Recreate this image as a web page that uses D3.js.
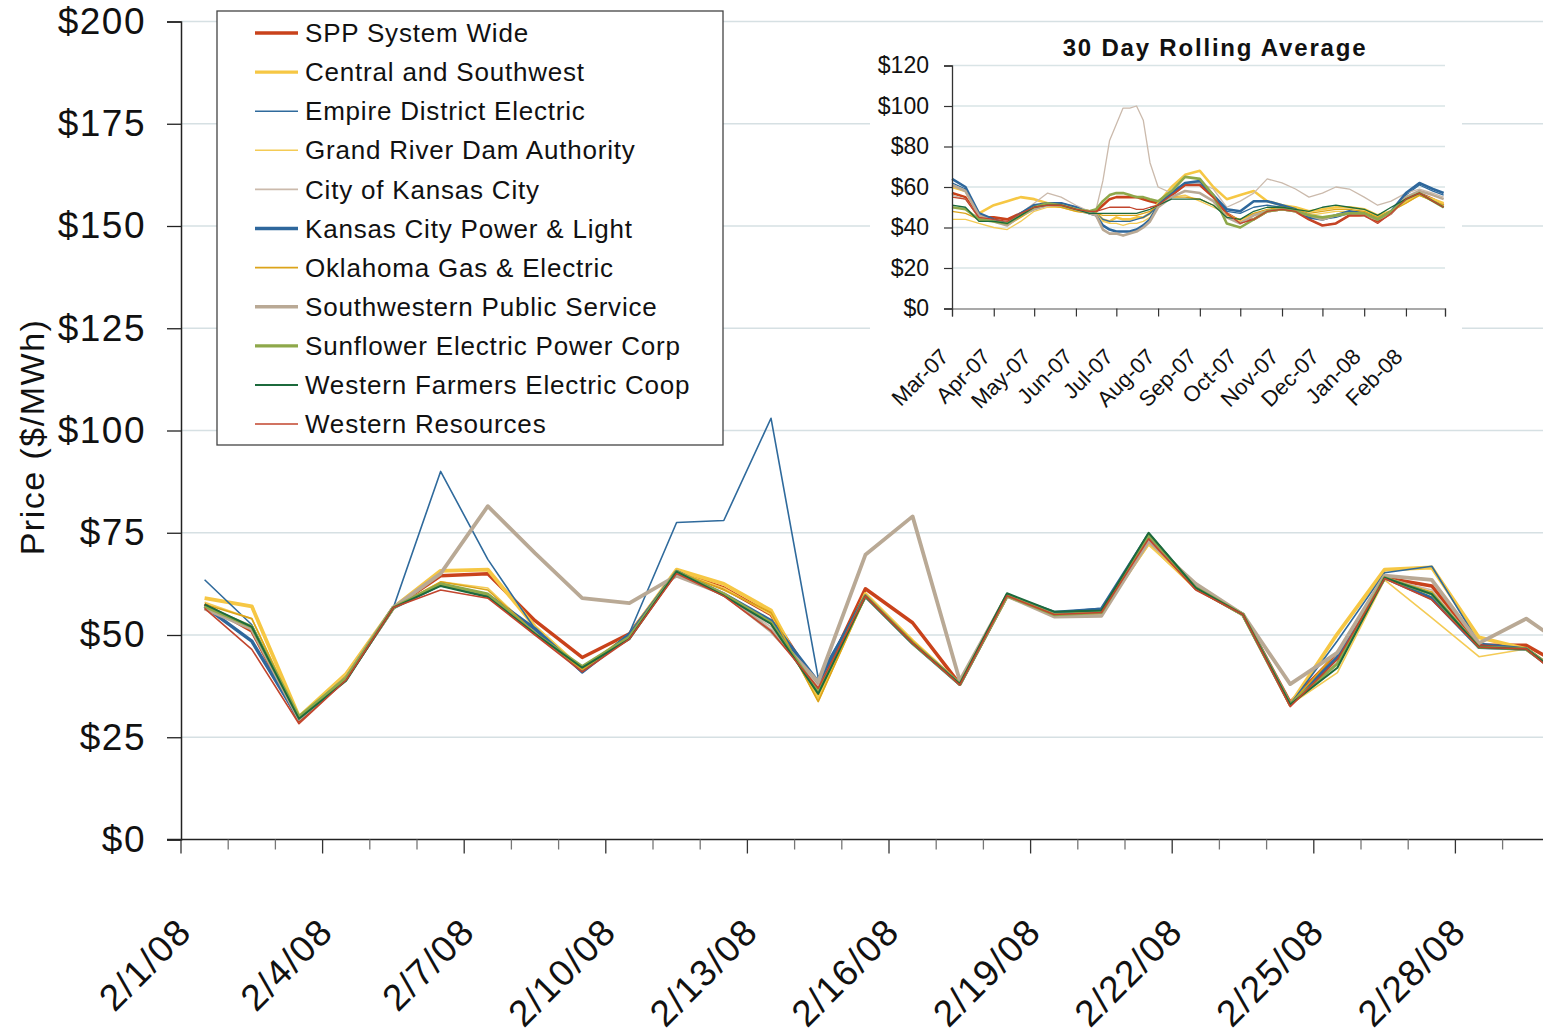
<!DOCTYPE html>
<html>
<head>
<meta charset="utf-8">
<script src="https://cdn.jsdelivr.net/npm/d3@7"></script>
<style>
    body { margin: 0; background: #fff; }
    svg { display: block; font-family: "Liberation Sans", Arial, sans-serif; }
</style>
</head>
<body>
<div id="chart"></div>
<script>
'use strict';

// Daily categories of the main chart
const days = ['2/1/08', '2/2/08', '2/3/08', '2/4/08', '2/5/08', '2/6/08', '2/7/08', '2/8/08',
    '2/9/08', '2/10/08', '2/11/08', '2/12/08', '2/13/08', '2/14/08', '2/15/08', '2/16/08',
    '2/17/08', '2/18/08', '2/19/08', '2/20/08', '2/21/08', '2/22/08', '2/23/08', '2/24/08',
    '2/25/08', '2/26/08', '2/27/08', '2/28/08', '2/29/08', '3/1/08'];
const dayLabels = ['2/1/08', '2/4/08', '2/7/08', '2/10/08', '2/13/08', '2/16/08', '2/19/08',
    '2/22/08', '2/25/08', '2/28/08'];
const priceTicks = [0, 25, 50, 75, 100, 125, 150, 175, 200];

const seriesNames = ['SPP System Wide', 'Central and Southwest', 'Empire District Electric',
    'Grand River Dam Authority', 'City of Kansas City', 'Kansas City Power & Light',
    'Oklahoma Gas & Electric', 'Southwestern Public Service', 'Sunflower Electric Power Corp',
    'Western Farmers Electric Coop', 'Western Resources'];

// Daily prices, $/MWh
const sppSystemWide = [57.5, 51, 29, 39.5, 56.7, 64.5, 65, 53.5, 44.5, 50.3, 65.5, 61.5, 55, 37, 61.3, 53, 38, 59.6, 55, 55.5, 73.5, 61.5, 55, 33.5, 45.4, 64, 62, 47.5, 47.5, 41];
const centralSouthwest = [59, 57, 30, 40.5, 56.7, 65.7, 66, 52, 41.5, 50, 66, 62.5, 56, 34.5, 60, 48.5, 38, 59.6, 55, 55.5, 72.5, 61.5, 55, 33, 50.3, 66, 66.5, 49.4, 46.6, 38.5];
const empireDistrict = [63.5, 52.5, 29.5, 39.5, 56.7, 90, 68.5, 51.5, 40.8, 50.5, 77.5, 78, 103, 39.5, 59.5, 48, 38, 59.6, 55.5, 56.5, 74, 61.5, 55, 33, 48.6, 65.2, 66.8, 48, 46.8, 38.5];
const grandRiverDam = [58, 54, 29.5, 40.5, 56.7, 63, 61.5, 50.5, 41.5, 49.5, 65.5, 61.5, 55, 34, 59.5, 48, 38, 59.6, 55, 55.5, 72, 61.5, 55, 33, 40.8, 63.5, 54.2, 44.7, 46.6, 38];
const cityOfKansasCity = [57, 52, 29.5, 39.5, 56.7, 62.5, 60, 50.5, 41.5, 49.5, 65.5, 60, 52, 37.5, 59.5, 48, 38, 59.6, 55, 55.5, 73.5, 61.5, 55, 33, 45, 64, 61, 47, 46.6, 38.5];
const kansasCityPower = [57, 48.5, 29.5, 39.5, 56.7, 62.3, 59.8, 51.5, 41, 50, 65.5, 60, 53.5, 38.5, 59.5, 48, 38, 59.6, 55.5, 56.3, 74.5, 61.5, 55, 33, 44.5, 64, 59, 47, 46.6, 38];
const oklahomaGas = [57.5, 54, 29.5, 40, 56.7, 63, 61, 50.5, 41.5, 49.5, 65.5, 61, 55.5, 33.7, 59.5, 48.5, 38, 59.6, 55, 55.5, 73.5, 61.5, 55, 33, 46, 64, 60.5, 47, 46.6, 38.5];
const southwesternPublic = [56.5, 51.5, 29.5, 39.5, 56.7, 65, 81.5, 70, 59, 57.8, 64.5, 60, 51, 38.5, 69.6, 79, 38.8, 59.6, 54.5, 54.7, 73, 62.5, 55, 38, 45.7, 64.5, 63.5, 48, 54, 46];
const sunflowerElectric = [57, 52, 30, 39.5, 56.7, 62.5, 60, 50.3, 42.3, 49.5, 65.5, 60, 53, 36, 59.5, 48, 38, 59.6, 55, 55.5, 74.5, 61.5, 55, 33, 43, 64, 60, 47, 46.6, 38];
const westernFarmers = [57.5, 52, 29.5, 38.8, 56.7, 62, 59.3, 50.3, 42, 49, 65.5, 59.6, 52.7, 35.6, 59.5, 48, 38, 60.2, 55.7, 56, 75, 61.5, 55, 33, 42, 64, 60, 47, 46.6, 38];
const westernResources = [56.5, 46.5, 28.3, 39, 56.7, 61, 59, 50, 41, 49, 65, 59.5, 51, 37, 59.5, 48, 37.8, 59.6, 55, 55.5, 73.5, 61, 55, 32.5, 44, 63.8, 58.6, 47, 46.6, 37];

// Inset: 30 day rolling average, sampled dates
const avgDates = ['3/1/07', '3/11/07', '3/21/07', '4/1/07', '4/11/07', '4/21/07', '5/1/07', '5/11/07',
    '5/21/07', '6/1/07', '6/11/07', '6/16/07', '6/21/07', '6/26/07', '7/1/07', '7/6/07', '7/11/07',
    '7/16/07', '7/21/07', '7/26/07', '8/1/07', '8/11/07', '8/21/07', '9/1/07', '9/11/07', '9/21/07',
    '10/1/07', '10/11/07', '10/21/07', '11/1/07', '11/11/07', '11/21/07', '12/1/07', '12/11/07',
    '12/21/07', '1/1/08', '1/11/08', '1/21/08', '2/1/08', '2/11/08', '2/21/08', '2/29/08'];
const avgMonths = ['Mar-07', 'Apr-07', 'May-07', 'Jun-07', 'Jul-07', 'Aug-07', 'Sep-07', 'Oct-07',
    'Nov-07', 'Dec-07', 'Jan-08', 'Feb-08'];
const avgTicks = [0, 20, 40, 60, 80, 100, 120];

const avgSpp = [57, 55, 45, 45, 44, 47, 50, 51, 51, 49, 48, 48, 51, 54, 55, 55, 55, 55, 54, 53, 52, 56, 61, 61, 55, 47, 43, 44, 48, 49, 48, 44, 41, 42, 46, 46, 43, 47, 55, 57, 54, 51];
const avgCentral = [60, 58, 47, 51, 53, 55, 54, 52, 51, 49, 48, 47, 44, 43, 45, 44, 44, 45, 45, 47, 52, 60, 66, 68, 60, 54, 56, 58, 53, 51, 50, 48, 49, 50, 50, 49, 46, 48, 53, 56, 54, 52];
const avgEmpire = [62, 59, 46, 43, 42, 46, 50, 52, 52, 50, 48, 47, 44, 43, 43, 43, 43, 44, 45, 47, 51, 57, 62, 62, 56, 48, 47, 50, 51, 50, 49, 46, 44, 45, 47, 47, 45, 48, 56, 61, 58, 56];
const avgGrandRiver = [44, 44, 42, 40, 39, 43, 48, 50, 50, 48, 47, 47, 43, 42, 42, 41, 42, 42, 43, 45, 50, 55, 56, 53, 50, 47, 43, 47, 48, 49, 49, 46, 47, 48, 48, 48, 45, 48, 52, 56, 53, 51];
const avgCityKc = [56, 54, 45, 44, 42, 47, 52, 57, 55, 51, 48, 49, 63, 83, 91, 99, 99, 100, 93, 72, 60, 57, 62, 62, 59, 50, 53, 57, 64, 62, 59, 55, 57, 60, 59, 55, 51, 53, 57, 59, 57, 55];
const avgKcpl = [64, 60, 47, 44, 42, 47, 51, 52, 52, 50, 47, 46, 41, 39, 38, 38, 38, 39, 41, 44, 51, 57, 62, 63, 56, 49, 48, 53, 53, 51, 49, 45, 44, 46, 48, 47, 44, 48, 57, 62, 59, 57];
const avgOklahoma = [48, 47, 44, 43, 41, 45, 49, 51, 50, 48, 47, 47, 46, 46, 46, 46, 46, 46, 47, 48, 51, 55, 55, 54, 51, 46, 44, 47, 49, 50, 49, 47, 48, 49, 49, 48, 45, 48, 52, 56, 53, 51];
const avgSouthwestern = [61, 58, 46, 43, 41, 46, 49, 51, 51, 49, 47, 46, 39, 37, 37, 36, 37, 38, 40, 43, 50, 55, 58, 57, 53, 45, 42, 46, 48, 49, 48, 46, 44, 46, 47, 46, 44, 47, 55, 58, 56, 54];
const avgSunflower = [50, 49, 44, 43, 42, 46, 50, 52, 51, 49, 48, 49, 53, 56, 57, 57, 56, 55, 55, 54, 53, 58, 65, 64, 56, 42, 40, 44, 48, 49, 48, 46, 45, 46, 47, 47, 44, 48, 54, 57, 53, 50];
const avgWesternFarmers = [51, 50, 43, 43, 42, 46, 50, 51, 51, 49, 47, 47, 47, 47, 47, 47, 47, 47, 48, 49, 51, 54, 54, 54, 51, 45, 44, 48, 50, 50, 49, 48, 50, 51, 50, 49, 46, 50, 54, 57, 53, 50];
const avgWesternResources = [55, 54, 45, 44, 43, 47, 50, 51, 51, 49, 48, 48, 49, 50, 50, 50, 50, 49, 49, 50, 51, 56, 61, 61, 55, 47, 42, 44, 48, 49, 48, 44, 41, 42, 46, 46, 42, 47, 54, 57, 53, 50];

const dailySeries = [sppSystemWide, centralSouthwest, empireDistrict, grandRiverDam, cityOfKansasCity,
    kansasCityPower, oklahomaGas, southwesternPublic, sunflowerElectric, westernFarmers, westernResources];
const avgSeries = [avgSpp, avgCentral, avgEmpire, avgGrandRiver, avgCityKc, avgKcpl, avgOklahoma,
    avgSouthwestern, avgSunflower, avgWesternFarmers, avgWesternResources];

// Line styles per series (same order as seriesNames)
const lineStyles = [
    { color: '#c9421b', width: 3.5 },
    { color: '#f6c744', width: 3.8 },
    { color: '#2f6a9c', width: 1.6 },
    { color: '#f4cb55', width: 1.6 },
    { color: '#cbbaac', width: 1.6 },
    { color: '#2e679c', width: 3.5 },
    { color: '#dca41a', width: 1.6 },
    { color: '#b9a995', width: 3.8 },
    { color: '#8ea84a', width: 3.2 },
    { color: '#1c6a3c', width: 2 },
    { color: '#c2452d', width: 1.6 }
];

const settings = { width: 1543, height: 1034 };
const plot = { left: 181, top: 21.5, bottom: 839.5, step: 47.2 };
const inset = { left: 952, right: 1445, top: 65.5, bottom: 308.5 };
const gridColor = '#d6e0e3';

const svg = d3.select('#chart')
    .append('svg')
    .attr('width', settings.width)
    .attr('height', settings.height);

// Main scales
const x = d3.scaleBand()
    .domain(days)
    .range([plot.left, plot.left + days.length * plot.step])
    .paddingInner(0)
    .paddingOuter(0);

const y = d3.scaleLinear()
    .domain([0, 200])
    .range([plot.bottom, plot.top]);

const cx = d => x(d) + x.bandwidth() / 2;

// Gridlines
svg.append('g')
    .selectAll('line')
    .data(priceTicks.filter(t => t > 0))
    .join('line')
    .attr('x1', plot.left)
    .attr('x2', settings.width)
    .attr('y1', d => y(d))
    .attr('y2', d => y(d))
    .attr('stroke', gridColor)
    .attr('stroke-width', 1.5);

// Daily price lines
const line = d3.line()
    .x((d, i) => cx(days[i]))
    .y(d => y(d));

svg.append('g')
    .selectAll('path')
    .data(dailySeries)
    .join('path')
    .attr('d', line)
    .attr('fill', 'none')
    .attr('stroke', (_, i) => lineStyles[i].color)
    .attr('stroke-width', (_, i) => lineStyles[i].width)
    .attr('stroke-linejoin', 'round');

// Y axis
const yAxis = svg.append('g')
    .attr('transform', `translate(${plot.left},0)`)
    .call(d3.axisLeft(y).tickValues(priceTicks).tickFormat(d => '$' + d).tickSize(14).tickPadding(21));
yAxis.select('.domain').attr('stroke', '#222').attr('stroke-width', 1.5);
yAxis.selectAll('.tick line').attr('stroke', '#222').attr('stroke-width', 1.3);
yAxis.selectAll('.tick text')
    .attr('font-size', '37px')
    .attr('letter-spacing', '1.5px')
    .attr('fill', '#111');

// X axis line and ticks between categories
svg.append('line')
    .attr('x1', plot.left - 14)
    .attr('x2', settings.width)
    .attr('y1', plot.bottom)
    .attr('y2', plot.bottom)
    .attr('stroke', '#222')
    .attr('stroke-width', 1.5);

svg.append('g')
    .selectAll('line')
    .data(d3.range(days.length + 1))
    .join('line')
    .attr('x1', i => plot.left + i * x.step())
    .attr('x2', i => plot.left + i * x.step())
    .attr('y1', plot.bottom)
    .attr('y2', i => plot.bottom + (i % 3 === 0 ? 14 : 10))
    .attr('stroke', i => i % 3 === 0 ? '#333' : '#777')
    .attr('stroke-width', 1.3);

svg.append('g')
    .selectAll('text')
    .data(dayLabels)
    .join('text')
    .attr('transform', d => `translate(${cx(d) - 11},934) rotate(-45)`)
    .attr('text-anchor', 'end')
    .attr('font-size', '37px')
    .attr('letter-spacing', '1.5px')
    .attr('fill', '#111')
    .text(d => d);

// Y axis title
svg.append('text')
    .attr('transform', 'translate(44,437) rotate(-90)')
    .attr('text-anchor', 'middle')
    .attr('font-size', '34px')
    .attr('letter-spacing', '1.5px')
    .attr('fill', '#111')
    .text('Price ($/MWh)');

// Legend
const legend = svg.append('g').attr('id', 'legend');
legend.append('rect')
    .attr('x', 217)
    .attr('y', 11)
    .attr('width', 506)
    .attr('height', 434)
    .attr('fill', '#fff')
    .attr('stroke', '#444')
    .attr('stroke-width', 1.3);

const entries = legend.selectAll('g.entry')
    .data(seriesNames)
    .join('g')
    .attr('class', 'entry')
    .attr('transform', (_, i) => `translate(0,${33 + i * 39.1})`);

entries.append('line')
    .attr('x1', 255)
    .attr('x2', 298)
    .attr('stroke', (_, i) => lineStyles[i].color)
    .attr('stroke-width', (_, i) => Math.min(lineStyles[i].width, 3.4));

entries.append('text')
    .attr('x', 305)
    .attr('dy', '0.35em')
    .attr('font-size', '26px')
    .attr('letter-spacing', '0.8px')
    .attr('fill', '#111')
    .text(d => d);

// Inset: 30 day rolling average
const parseDate = d3.timeParse('%m/%d/%y');
const parseMonth = d3.timeParse('%b-%y');
const avgTimes = avgDates.map(parseDate);
const monthStarts = avgMonths.map(parseMonth);

const ix = d3.scaleTime()
    .domain([parseDate('3/1/07'), parseDate('3/1/08')])
    .range([inset.left, inset.right]);

const iy = d3.scaleLinear()
    .domain([0, 120])
    .range([inset.bottom, inset.top]);

const insetG = svg.append('g').attr('id', 'inset');

insetG.append('rect')
    .attr('x', 870)
    .attr('y', 23)
    .attr('width', 592)
    .attr('height', 392)
    .attr('fill', '#fff');

insetG.append('text')
    .attr('x', 1215)
    .attr('y', 56)
    .attr('text-anchor', 'middle')
    .attr('font-size', '24px')
    .attr('font-weight', 'bold')
    .attr('letter-spacing', '1.8px')
    .attr('fill', '#111')
    .text('30 Day Rolling Average');

insetG.append('g')
    .selectAll('line')
    .data(avgTicks.filter(t => t > 0))
    .join('line')
    .attr('x1', inset.left)
    .attr('x2', inset.right)
    .attr('y1', d => iy(d))
    .attr('y2', d => iy(d))
    .attr('stroke', '#d9e4e6')
    .attr('stroke-width', 1.5);

const avgLine = d3.line()
    .x((d, i) => ix(avgTimes[i]))
    .y(d => iy(d));

insetG.append('g')
    .selectAll('path')
    .data(avgSeries)
    .join('path')
    .attr('d', avgLine)
    .attr('fill', 'none')
    .attr('stroke', (_, i) => lineStyles[i].color)
    .attr('stroke-width', (_, i) => lineStyles[i].width > 3 ? 2.6 : 1.3)
    .attr('stroke-linejoin', 'round');

const iyAxis = insetG.append('g')
    .attr('transform', `translate(${inset.left},0)`)
    .call(d3.axisLeft(iy).tickValues(avgTicks).tickFormat(d => '$' + d).tickSize(8).tickPadding(15));
iyAxis.select('.domain').attr('stroke', '#333').attr('stroke-width', 1.3);
iyAxis.selectAll('.tick line').attr('stroke', '#333').attr('stroke-width', 1.2);
iyAxis.selectAll('.tick text').attr('font-size', '23px').attr('fill', '#111');

const ixAxis = insetG.append('g')
    .attr('transform', `translate(0,${inset.bottom})`)
    .call(d3.axisBottom(ix).tickValues(monthStarts.concat([ix.domain()[1]])).tickFormat('').tickSize(8));
ixAxis.select('.domain').attr('stroke', '#555').attr('stroke-width', 1.2);
ixAxis.selectAll('.tick line').attr('stroke', '#333').attr('stroke-width', 1.2);

insetG.append('g')
    .selectAll('text')
    .data(avgMonths)
    .join('text')
    .attr('transform', (d, i) => `translate(${ix(monthStarts[i]) - 2},358) rotate(-45)`)
    .attr('text-anchor', 'end')
    .attr('font-size', '22px')
    .attr('fill', '#111')
    .text(d => d);
</script>
</body>
</html>
